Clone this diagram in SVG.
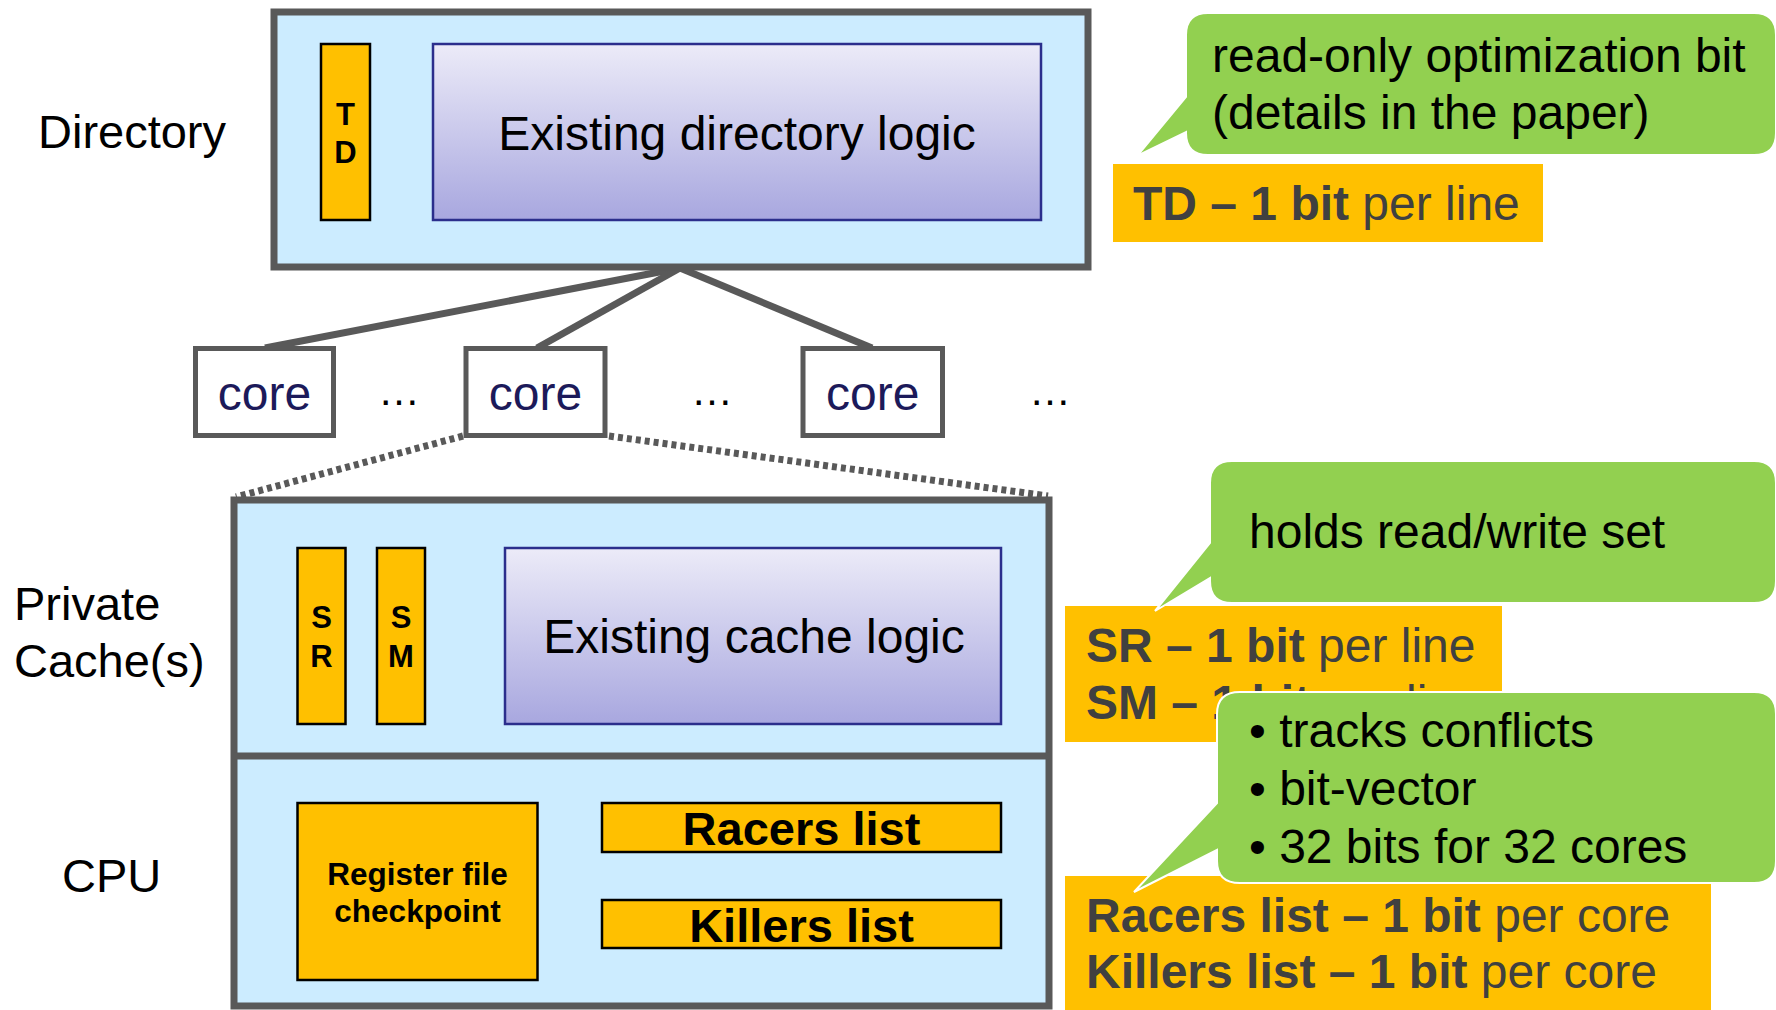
<svg xmlns="http://www.w3.org/2000/svg" width="1776" height="1010" viewBox="0 0 1776 1010">
<defs>
<linearGradient id="lg" x1="0" y1="0" x2="0" y2="1">
<stop offset="0" stop-color="#ECEBF8"/>
<stop offset="1" stop-color="#A8A7DF"/>
</linearGradient>
<style>
text{font-family:"Liberation Sans",Arial,sans-serif;}
.frame{fill:#CCECFF;stroke:#595959;stroke-width:7;}
.core{fill:#FFFFFF;stroke:#595959;stroke-width:5;}
.bit{fill:#FFC000;stroke:#000000;stroke-width:2.5;}
.logic{fill:url(#lg);stroke:#2B2E8C;stroke-width:2.5;}
.lbl{font-size:47px;fill:#000000;}
.big{font-size:48px;fill:#000000;}
.bitt{font-size:31px;font-weight:bold;fill:#000000;text-anchor:middle;}
.coret{font-size:48px;fill:#1C1A5A;text-anchor:middle;}
.dots{font-size:42px;fill:#000000;}
.bub{fill:#92D050;stroke:#FFFFFF;stroke-width:2;}
.note{fill:#FFC000;}
.nt{font-size:48px;fill:#404040;}
.b{font-weight:bold;}
.bt{font-size:48px;fill:#000000;}
.conn{stroke:#595959;stroke-width:7;fill:none;}
.dot{stroke:#595959;stroke-width:7;fill:none;stroke-dasharray:5 4;}
</style>
</defs>
<rect width="1776" height="1010" fill="#FFFFFF"/>

<g id="connectors">
<line class="conn" x1="680" y1="268" x2="265" y2="348"/>
<line class="conn" x1="680" y1="268" x2="537" y2="348"/>
<line class="conn" x1="680" y1="268" x2="872" y2="348"/>
<line class="dot" x1="463" y1="436" x2="236" y2="497"/>
<line class="dot" x1="609" y1="436" x2="1048" y2="496"/>
</g>

<g id="directory">
<rect class="frame" x="274" y="12" width="814" height="255"/>
<text class="lbl" x="38" y="148">Directory</text>
</g>
<g id="td">
<rect class="bit" x="321" y="44" width="49" height="176"/>
<text class="bitt" x="345.5" y="125">T</text>
<text class="bitt" x="345.5" y="163">D</text>
</g>
<g id="dir-logic">
<rect class="logic" x="433" y="44" width="608" height="176"/>
<text class="big" x="737" y="150" text-anchor="middle">Existing directory logic</text>
</g>

<g id="core1">
<rect class="core" x="195.5" y="348.5" width="138" height="87"/>
<text class="coret" x="264.5" y="410">core</text>
</g>
<text class="dots" x="378" y="405">…</text>
<g id="core2">
<rect class="core" x="466" y="348.5" width="139" height="87"/>
<text class="coret" x="535.5" y="410">core</text>
</g>
<text class="dots" x="691" y="405">…</text>
<g id="core3">
<rect class="core" x="803" y="348.5" width="139.5" height="87"/>
<text class="coret" x="872.7" y="410">core</text>
</g>
<text class="dots" x="1029" y="405">…</text>

<g id="cache">
<rect class="frame" x="234" y="500" width="815" height="506"/>
<line class="conn" x1="234" y1="756" x2="1049" y2="756"/>
<text class="lbl" x="14" y="620">Private</text>
<text class="lbl" x="14" y="677">Cache(s)</text>
<text class="lbl" x="62" y="892">CPU</text>
</g>
<g id="sr">
<rect class="bit" x="297.5" y="548" width="48" height="176"/>
<text class="bitt" x="321.5" y="628">S</text>
<text class="bitt" x="321.5" y="667">R</text>
</g>
<g id="sm">
<rect class="bit" x="377" y="548" width="48" height="176"/>
<text class="bitt" x="401" y="628">S</text>
<text class="bitt" x="401" y="667">M</text>
</g>
<g id="cache-logic">
<rect class="logic" x="505" y="548" width="496" height="176"/>
<text class="big" x="754" y="653" text-anchor="middle">Existing cache logic</text>
</g>
<g id="regfile">
<rect class="bit" x="297.5" y="803" width="240" height="177"/>
<text x="417.5" y="885" text-anchor="middle" font-size="31.5" font-weight="bold">Register file</text>
<text x="417.5" y="922" text-anchor="middle" font-size="31.5" font-weight="bold">checkpoint</text>
</g>
<g id="racers">
<rect class="bit" x="602" y="803" width="399" height="49"/>
<text x="801.5" y="845" text-anchor="middle" font-size="47" font-weight="bold">Racers list</text>
</g>
<g id="killers">
<rect class="bit" x="602" y="900" width="399" height="48"/>
<text x="801.5" y="942" text-anchor="middle" font-size="47" font-weight="bold">Killers list</text>
</g>

<g id="note-td">
<path class="bub" d="M1208,13 H1754 Q1776,13 1776,35 V133 Q1776,155 1754,155 H1208 Q1186,155 1186,133 V132 L1137,156 L1186,97 V35 Q1186,13 1208,13 Z"/>
<text class="bt" x="1212" y="72">read-only optimization bit</text>
<text class="bt" x="1212" y="129">(details in the paper)</text>
<rect class="note" x="1113" y="164" width="430" height="78"/>
<text class="nt" x="1133" y="220"><tspan class="b">TD – 1 bit</tspan> per line</text>
</g>

<g id="note-srsm">
<rect class="note" x="1065" y="606" width="437" height="136"/>
<text class="nt" x="1086" y="662"><tspan class="b">SR – 1 bit</tspan> per line</text>
<text class="nt" x="1086" y="719"><tspan class="b">SM – 1 bit</tspan> per line</text>
<path class="bub" d="M1232,461 H1754 Q1776,461 1776,483 V581 Q1776,603 1754,603 H1232 Q1210,603 1210,581 V578 L1155,611 L1210,543 V483 Q1210,461 1232,461 Z"/>
<text class="bt" x="1249" y="548">holds read/write set</text>
</g>

<g id="note-lists">
<rect class="note" x="1065" y="876" width="646" height="134"/>
<text class="nt" x="1086" y="932"><tspan class="b">Racers list – 1 bit</tspan> per core</text>
<text class="nt" x="1086" y="988"><tspan class="b">Killers list – 1 bit</tspan> per core</text>
<path class="bub" d="M1240,692 H1754 Q1776,692 1776,714 V861 Q1776,883 1754,883 H1240 Q1217,883 1217,861 V850 L1134,892 L1217,803 V714 Q1217,692 1240,692 Z"/>
<text class="bt" x="1249" y="747">• tracks conflicts</text>
<text class="bt" x="1249" y="805">• bit-vector</text>
<text class="bt" x="1249" y="863">• 32 bits for 32 cores</text>
</g>
</svg>
